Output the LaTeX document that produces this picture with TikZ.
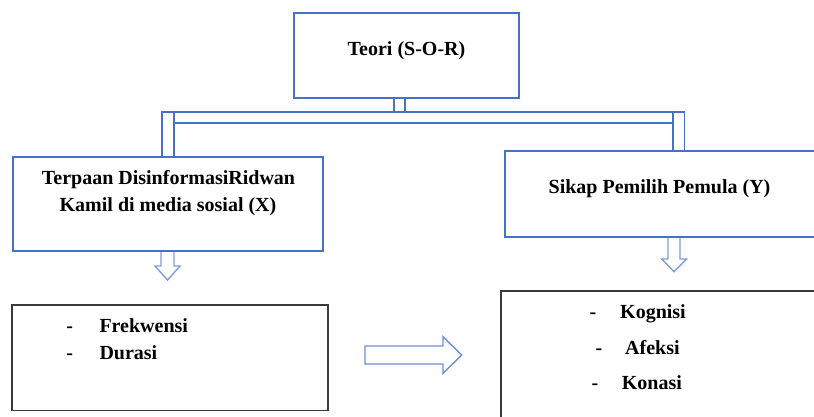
\documentclass[tikz,border=0pt]{standalone}
\usepackage{fontspec}
\setmainfont{Liberation Serif}
\definecolor{boxblue}{HTML}{4472C4}
\definecolor{arrblue}{HTML}{6A8FD6}
\definecolor{arrlight}{HTML}{7E9EDB}
\definecolor{boxgray}{HTML}{3A3A3A}
\begin{document}
\begin{tikzpicture}[x=1pt,y=-1pt,
  font=\fontsize{20}{28}\selectfont\bfseries,
  bluebox/.style={draw=boxblue, line width=1.2pt, fill=white, inner sep=0pt},
  graybox/.style={draw=boxgray, line width=1.2pt, inner sep=0pt},
  txt/.style={inner sep=0pt, anchor=base},
  wrd/.style={inner sep=0pt, anchor=base west},
  conn/.style={draw=boxblue, line width=1.1pt, fill=white},
  blockarrow/.style={draw=arrblue, line width=1.4pt, fill=white, line join=miter}]
\useasboundingbox (0,0) rectangle (814,416);

% connectors (double-line bracket)
\draw[conn] (394,98) rectangle (405,112.5);
\draw[conn] (162,112) rectangle (684.6,123);
\draw[conn] (162,112) rectangle (174,157);
\draw[conn] (673,112) rectangle (684.6,151);

% down arrows
\draw[blockarrow, draw=arrlight] (161,251) -- (161,266) -- (155,266) -- (167.5,280) -- (180,266) -- (174,266) -- (174,251);
\draw[blockarrow, draw=arrlight] (668,237) -- (668,259) -- (661.7,259) -- (674,271.7) -- (686.7,259) -- (680,259) -- (680,237);

% boxes
\node[bluebox, minimum width=225pt, minimum height=85pt] (top) at (406.5,55.5) {};
\node[txt] (toptext) at (406.5,55) {Teori (S-O-R)};

\node[bluebox, minimum width=310pt, minimum height=94pt] (stim) at (168,204) {};
\node[txt] (stimA) at (168.5,184) {Terpaan DisinformasiRidwan};
\node[txt] (stimB) at (168,211.7) {Kamil di media sosial (X)};

\node[bluebox, minimum width=312pt, minimum height=86pt] (resp) at (661,194) {};
\node[txt] (resptext) at (659.5,193.3) {Sikap Pemilih Pemula (Y)};

\node[graybox, minimum width=316pt, minimum height=105.6pt] (xind) at (170,357.8) {};
\node[txt] (xd1) at (69.7,332) {-};
\node[wrd] (xw1) at (99.3,332) {Frekwensi};
\node[txt] (xd2) at (69.7,359.5) {-};
\node[wrd] (xw2) at (99.3,359.5) {Durasi};

\node[graybox, minimum width=319pt, minimum height=129pt] (yind) at (660.5,355.5) {};
\node[txt] (yd1) at (593,318.5) {-};
\node[wrd] (yw1) at (620,318.5) {Kognisi};
\node[txt] (yd2) at (599,354) {-};
\node[wrd] (yw2) at (625,354) {Afeksi};
\node[txt] (yd3) at (595,389) {-};
\node[wrd] (yw3) at (621.7,389) {Konasi};

% right block arrow
\draw[blockarrow] (365,346) -- (443,346) -- (443,336.7) -- (461.7,355) -- (443,373.3) -- (443,364) -- (365,364) -- cycle;
\end{tikzpicture}
\end{document}
